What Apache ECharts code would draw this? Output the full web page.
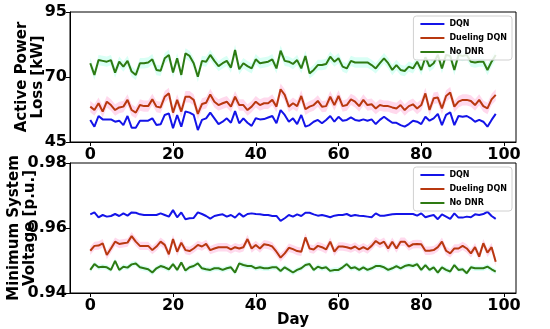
<!DOCTYPE html>
<html>
<head>
<meta charset="utf-8">
<script src="https://cdn.jsdelivr.net/npm/echarts@6/dist/echarts.min.js"></script>
<style>html,body{margin:0;padding:0;background:#fff}#c{width:550px;height:329px}</style>
</head>
<body>
<div id="c"></div>
<script>
const days = Array.from({length: 99}, (_, i) => i);
const xTicks = [0, 20, 40, 60, 80, 100];
const lossTicks = [45, 70, 95];
const voltTicks = [0.94, 0.96, 0.98];
const seriesNames = ['DQN', 'Dueling DQN', 'No DNR'];

const lossDQN = [53.5,50.9,55.0,53.7,53.7,53.7,52.8,53.2,51.5,55.0,50.5,50.5,53.2,53.2,53.2,54.1,51.5,51.8,55.4,56.0,50.3,55.4,50.9,56.7,56.3,55.4,49.6,53.5,54.1,56.3,54.1,51.9,52.8,54.1,52.4,56.9,52.2,54.1,52.4,51.2,54.1,53.7,53.8,54.4,55.0,52.2,57.3,55.4,52.8,54.1,51.9,55.4,50.9,51.5,52.8,53.5,52.2,53.5,55.0,52.8,54.7,53.2,53.5,54.5,53.5,53.2,53.7,53.2,53.7,51.9,53.5,54.7,53.5,52.4,52.4,51.5,50.9,51.9,53.2,52.8,51.9,54.7,53.2,54.1,55.8,51.5,55.4,56.4,51.5,55.0,54.7,55.0,54.1,52.8,53.5,52.8,50.9,53.5,55.8];
const lossDueling = [58.6,57.3,59.9,56.7,60.5,59.2,57.3,58.3,58.6,61.2,57.3,56.3,59.2,58.8,58.8,61.4,58.6,58.3,62.4,63.7,56.3,61.2,56.7,62.4,62.4,61.2,55.8,59.6,60.1,63.3,60.5,59.2,59.9,60.5,58.6,62.4,59.2,59.2,57.3,58.6,60.5,59.2,59.9,59.9,61.2,58.6,65.3,63.1,58.6,59.9,58.8,62.7,57.6,58.6,59.2,60.8,58.6,58.8,62.4,59.2,62.7,58.8,59.2,61.4,60.5,58.8,61.2,59.2,59.5,57.9,59.2,58.8,58.8,58.3,57.9,59.2,57.3,58.8,59.5,57.9,59.2,63.7,57.3,61.8,62.1,57.9,62.7,64.0,58.6,60.5,61.2,61.2,60.8,59.2,61.2,58.8,57.9,61.4,63.1];
const lossNoDNR = [75.3,70.8,76.5,76.2,75.9,76.5,71.7,75.9,74.0,76.2,72.1,70.8,75.3,75.3,75.6,76.8,72.7,72.4,77.2,78.5,71.7,77.2,70.8,79.1,78.1,75.3,70.1,76.2,75.9,78.5,76.2,74.2,75.3,76.2,73.6,80.4,73.0,75.3,74.2,73.3,76.8,75.3,75.6,75.9,76.8,73.3,80.1,76.2,75.9,75.0,76.5,73.3,78.1,71.4,72.7,74.6,74.6,75.0,77.8,75.9,77.2,74.0,73.3,76.2,75.6,75.6,75.6,75.6,74.6,73.3,75.3,77.2,75.3,72.7,74.6,72.7,72.3,74.0,73.3,75.9,72.7,77.6,74.0,75.3,78.5,73.3,78.5,78.1,72.7,78.5,78.1,78.5,75.9,75.6,75.9,75.9,72.7,75.9,78.5];

const voltDQN = [0.9642,0.9648,0.9633,0.9640,0.9635,0.9637,0.9643,0.9637,0.9645,0.9638,0.9648,0.9647,0.9642,0.9640,0.9640,0.9640,0.9640,0.9645,0.9640,0.9635,0.9655,0.9633,0.9648,0.9627,0.9630,0.9631,0.9648,0.9643,0.9637,0.9629,0.9637,0.9640,0.9642,0.9635,0.9640,0.9632,0.9645,0.9635,0.9643,0.9645,0.9643,0.9642,0.9640,0.9640,0.9637,0.9637,0.9622,0.9630,0.9640,0.9635,0.9642,0.9637,0.9647,0.9647,0.9642,0.9638,0.9640,0.9637,0.9633,0.9638,0.9640,0.9640,0.9643,0.9637,0.9640,0.9638,0.9637,0.9635,0.9633,0.9645,0.9638,0.9638,0.9640,0.9642,0.9643,0.9643,0.9643,0.9643,0.9643,0.9638,0.9645,0.9633,0.9637,0.9640,0.9627,0.9642,0.9635,0.9628,0.9645,0.9632,0.9632,0.9635,0.9633,0.9642,0.9640,0.9643,0.9650,0.9637,0.9628];
const voltDueling = [0.9530,0.9545,0.9546,0.9553,0.9517,0.9537,0.9558,0.9551,0.9553,0.9555,0.9575,0.9558,0.9545,0.9545,0.9545,0.9532,0.9543,0.9558,0.9548,0.9519,0.9566,0.9527,0.9555,0.9532,0.9529,0.9537,0.9548,0.9543,0.9551,0.9532,0.9537,0.9541,0.9541,0.9541,0.9534,0.9541,0.9537,0.9541,0.9566,0.9537,0.9548,0.9537,0.9550,0.9548,0.9543,0.9527,0.9509,0.9522,0.9539,0.9535,0.9529,0.9527,0.9571,0.9537,0.9534,0.9545,0.9541,0.9534,0.9558,0.9527,0.9543,0.9543,0.9541,0.9537,0.9543,0.9534,0.9541,0.9534,0.9545,0.9560,0.9551,0.9558,0.9537,0.9558,0.9537,0.9558,0.9558,0.9543,0.9550,0.9551,0.9550,0.9530,0.9530,0.9532,0.9541,0.9558,0.9530,0.9522,0.9537,0.9537,0.9545,0.9537,0.9522,0.9541,0.9512,0.9553,0.9524,0.9541,0.9496];
const voltNoDNR = [0.9471,0.9489,0.9479,0.9481,0.9479,0.9471,0.9499,0.9471,0.9481,0.9478,0.9488,0.9491,0.9479,0.9476,0.9473,0.9463,0.9476,0.9483,0.9479,0.9473,0.9489,0.9471,0.9494,0.9469,0.9479,0.9483,0.9491,0.9476,0.9473,0.9471,0.9476,0.9476,0.9471,0.9476,0.9479,0.9463,0.9491,0.9486,0.9483,0.9483,0.9476,0.9479,0.9476,0.9476,0.9479,0.9479,0.9468,0.9479,0.9471,0.9463,0.9471,0.9476,0.9486,0.9489,0.9471,0.9481,0.9476,0.9479,0.9468,0.9471,0.9471,0.9479,0.9489,0.9476,0.9479,0.9471,0.9479,0.9471,0.9476,0.9483,0.9483,0.9479,0.9471,0.9476,0.9483,0.9476,0.9483,0.9486,0.9483,0.9489,0.9471,0.9486,0.9471,0.9479,0.9463,0.9479,0.9471,0.9466,0.9486,0.9471,0.9473,0.9461,0.9479,0.9476,0.9476,0.9476,0.9481,0.9473,0.9466];

const colors = {'DQN': '#1414e8', 'Dueling DQN': '#b8380f', 'No DNR': '#2e7a12'};
const FONT = 'DejaVu Sans';

function pairs(vals) { return days.map((d, i) => [d, vals[i]]); }

// translucent spread band around a series, drawn through the axes' scales
function band(vals, w, color, xi, yi) {
  return {type: 'custom', xAxisIndex: xi, yAxisIndex: yi, silent: true, z: 1,
    data: [[0, vals[0]]],
    renderItem: function (params, api) {
      const up = days.map((d, i) => api.coord([d, vals[i] + w]));
      const lo = days.map((d, i) => api.coord([d, vals[i] - w])).reverse();
      return {type: 'polygon', shape: {points: up.concat(lo)}, style: {fill: color}};
    }};
}

function line(name, vals, xi, yi) {
  return {type: 'line', name: name, xAxisIndex: xi, yAxisIndex: yi, symbol: 'none', data: pairs(vals),
          lineStyle: {width: 2, color: colors[name]}, itemStyle: {color: colors[name]}, z: 3};
}

function xAxis(gi, withName) {
  const a = {type: 'value', gridIndex: gi, min: -4.9, max: 102.9,
    axisLine: {show: true, onZero: false, lineStyle: {color: '#000', width: 1}},
    axisTick: {show: true, length: 4, customValues: xTicks, lineStyle: {color: '#000'}},
    axisLabel: {customValues: xTicks, fontSize: 16, fontWeight: 'bold', color: '#000', fontFamily: FONT, margin: 5},
    splitLine: {show: false}};
  if (withName) {
    a.name = 'Day'; a.nameLocation = 'middle'; a.nameGap = 20; a.nameMoveOverlap = false;
    a.nameTextStyle = {fontSize: 15, fontWeight: 'bold', color: '#000', fontFamily: FONT};
  }
  return a;
}

function yAxis(gi, ticks, min, max, name, gap, fmt) {
  return {type: 'value', gridIndex: gi, min: min, max: max,
    axisLine: {show: true, onZero: false, lineStyle: {color: '#000', width: 1}},
    axisTick: {show: true, length: 4, customValues: ticks, lineStyle: {color: '#000'}},
    axisLabel: {customValues: ticks, fontSize: 16, fontWeight: 'bold', color: '#000', fontFamily: FONT, margin: 3, formatter: fmt},
    splitLine: {show: false},
    name: name, nameLocation: 'middle', nameGap: gap, nameRotate: 90, nameMoveOverlap: false,
    nameTextStyle: {fontSize: 15, fontWeight: 'bold', color: '#000', fontFamily: FONT, lineHeight: 16}};
}

function legend(top) {
  return {data: seriesNames, orient: 'vertical', right: 38, top: top, icon: 'rect', itemWidth: 24, itemHeight: 2, itemGap: 6,
    backgroundColor: 'rgba(255,255,255,0.85)', borderColor: '#d0d0d0', borderWidth: 1, borderRadius: 3, padding: [4, 5, 4, 7],
    textStyle: {fontSize: 8, fontWeight: 'bold', color: '#000', fontFamily: FONT}};
}

const pink = 'rgba(255,160,210,0.4)';
const cyan = 'rgba(160,255,230,0.4)';

const chart = echarts.init(document.getElementById('c'), null, {renderer: 'canvas'});
chart.setOption({
  animation: false,
  grid: [
    {left: 70, top: 12, width: 446, height: 130, show: true, borderColor: '#000', borderWidth: 1, backgroundColor: 'transparent', containLabel: false, outerBoundsMode: 'none'},
    {left: 70, top: 163, width: 446, height: 130, show: true, borderColor: '#000', borderWidth: 1, backgroundColor: 'transparent', containLabel: false, outerBoundsMode: 'none'}
  ],
  xAxis: [xAxis(0, false), xAxis(1, true)],
  yAxis: [
    yAxis(0, lossTicks, 45, 95, 'Active Power\nLoss [kW]', 24, (v) => String(v)),
    yAxis(1, voltTicks, 0.94, 0.98, 'Minimum System\nVoltage [p.u.]', 32, (v) => v.toFixed(2))
  ],
  legend: [legend(16), legend(167)],
  series: [
    band(lossDueling, 2.2, pink, 0, 0),
    band(lossNoDNR, 2.0, cyan, 0, 0),
    band(voltDueling, 0.0013, pink, 1, 1),
    band(voltNoDNR, 0.0008, cyan, 1, 1),
    line('DQN', lossDQN, 0, 0),
    line('Dueling DQN', lossDueling, 0, 0),
    line('No DNR', lossNoDNR, 0, 0),
    line('DQN', voltDQN, 1, 1),
    line('Dueling DQN', voltDueling, 1, 1),
    line('No DNR', voltNoDNR, 1, 1)
  ]
});
</script>
</body>
</html>
